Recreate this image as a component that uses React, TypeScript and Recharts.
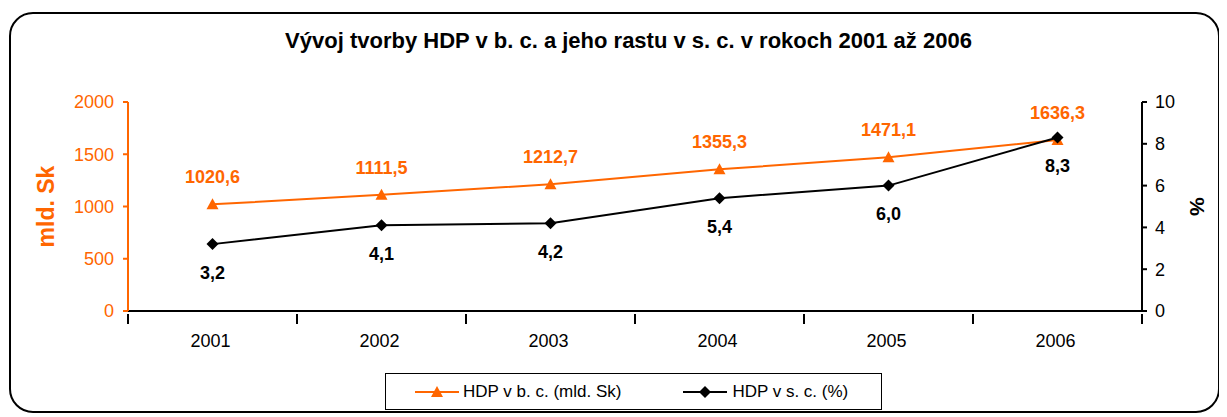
import React from "react"
import { Line, LineChart, LabelList, XAxis, YAxis } from "recharts"

const years = ["2001", "2002", "2003", "2004", "2005", "2006"]
const hdpBc = [1020.6, 1111.5, 1212.7, 1355.3, 1471.1, 1636.3]
const hdpSc = [3.2, 4.1, 4.2, 5.4, 6.0, 8.3]
const leftTicks = [0, 500, 1000, 1500, 2000]
const rightTicks = [0, 2, 4, 6, 8, 10]

const data = years.map((year, i) => ({ year, bc: hdpBc[i], sc: hdpSc[i] }))

const ORANGE = "#FF6600"
const FONT = "'Liberation Sans', Arial, sans-serif"
const BAND = 1014 / years.length

const fmt = (v: any) => Number(v).toFixed(1).replace(".", ",")

const Triangle = (props: any) => {
  const { cx, cy } = props
  if (cx == null || cy == null) return null
  return <path d={`M${cx},${cy - 6} L${cx + 6},${cy + 5} L${cx - 6},${cy + 5} Z`} fill={ORANGE} />
}

const Diamond = (props: any) => {
  const { cx, cy } = props
  if (cx == null || cy == null) return null
  return <path d={`M${cx},${cy - 6} L${cx + 6},${cy} L${cx},${cy + 6} L${cx - 6},${cy} Z`} fill="#000" />
}

// category ticks sit between the years, like the original
const YearTick = (props: any) => {
  const { x, y, payload, index } = props
  const left = x - BAND / 2
  return (
    <g>
      <line x1={left} y1={y - 5} x2={left} y2={y + 5} stroke="#000" strokeWidth={2} />
      {index === years.length - 1 && (
        <line x1={x + BAND / 2} y1={y - 5} x2={x + BAND / 2} y2={y + 5} stroke="#000" strokeWidth={2} />
      )}
      <text x={x - 2} y={y + 28} textAnchor="middle" fontSize={18} fontFamily={FONT} fill="#000">
        {payload.value}
      </text>
    </g>
  )
}

export default function App() {
  return (
    <div
      style={{
        position: "relative",
        marginLeft: 1,
        marginTop: 4,
        width: 1207,
        height: 397,
        border: "2px solid #000",
        borderRadius: 24,
        background: "#fff",
        fontFamily: FONT,
      }}
    >
      <div
        style={{
          position: "absolute",
          top: 14,
          left: 14,
          width: 1207,
          textAlign: "center",
          fontWeight: "bold",
          fontSize: 22,
        }}
      >
        Vývoj tvorby HDP v b. c. a jeho rastu v s. c. v rokoch 2001 až 2006
      </div>
      <LineChart width={1207} height={397} data={data} margin={{ top: 88, right: 0, left: 0, bottom: 70 }}>
        <XAxis
          dataKey="year"
          scale="band"
          xAxisId="x"
          axisLine={{ stroke: "#000", strokeWidth: 2 }}
          tickLine={false}
          tick={<YearTick />}
          height={30}
          interval={0}
        />
        <YAxis
          yAxisId="left"
          orientation="left"
          domain={[0, 2000]}
          ticks={leftTicks}
          width={117}
          axisLine={{ stroke: ORANGE, strokeWidth: 2 }}
          tickLine={{ stroke: ORANGE, strokeWidth: 2 }}
          tickSize={5}
          tickMargin={9}
          tick={{ fill: ORANGE, fontSize: 18, fontFamily: FONT }}
          label={{
            content: ({ viewBox }: any) => (
              <text
                x={35}
                y={viewBox.y + viewBox.height / 2}
                transform={`rotate(-90, 35, ${viewBox.y + viewBox.height / 2})`}
                textAnchor="middle"
                dominantBaseline="central"
                fill={ORANGE}
                fontWeight="bold"
                fontSize={23}
                fontFamily={FONT}
              >
                mld. Sk
              </text>
            ),
          }}
        />
        <YAxis
          yAxisId="right"
          orientation="right"
          domain={[0, 10]}
          ticks={rightTicks}
          width={76}
          axisLine={{ stroke: "#000", strokeWidth: 2 }}
          tickLine={{ stroke: "#000", strokeWidth: 2 }}
          tickSize={5}
          tickMargin={8}
          tick={{ fill: "#000", fontSize: 18, fontFamily: FONT }}
          label={{
            content: ({ viewBox }: any) => (
              <text
                x={1186}
                y={viewBox.y + viewBox.height / 2}
                transform={`rotate(90, 1186, ${viewBox.y + viewBox.height / 2})`}
                textAnchor="middle"
                dominantBaseline="central"
                fill="#000"
                fontWeight="bold"
                fontSize={21}
                fontFamily={FONT}
              >
                %
              </text>
            ),
          }}
        />
        <Line
          xAxisId="x"
          yAxisId="left"
          dataKey="bc"
          stroke={ORANGE}
          strokeWidth={2}
          dot={<Triangle />}
          activeDot={false}
          isAnimationActive={false}
        >
          <LabelList
            dataKey="bc"
            position="top"
            offset={21}
            formatter={fmt}
            fill={ORANGE}
            fontWeight="bold"
            fontSize={18}
            fontFamily={FONT}
          />
        </Line>
        <Line
          xAxisId="x"
          yAxisId="right"
          dataKey="sc"
          stroke="#000"
          strokeWidth={2}
          dot={<Diamond />}
          activeDot={false}
          isAnimationActive={false}
        >
          <LabelList
            dataKey="sc"
            position="bottom"
            offset={22}
            formatter={fmt}
            fill="#000"
            fontWeight="bold"
            fontSize={18}
            fontFamily={FONT}
          />
        </Line>
      </LineChart>
      <div
        style={{
          position: "absolute",
          left: 374,
          top: 359,
          width: 495,
          height: 35,
          border: "1px solid #000",
          display: "flex",
          alignItems: "center",
          fontSize: 17,
        }}
      >
        <svg width={44} height={14} style={{ marginLeft: 29 }}>
          <line x1={0} y1={7} x2={44} y2={7} stroke={ORANGE} strokeWidth={2} />
          <path d="M22,1 L28,12 L16,12 Z" fill={ORANGE} />
        </svg>
        <span style={{ marginLeft: 4 }}>HDP v b. c. (mld. Sk)</span>
        <svg width={44} height={14} style={{ marginLeft: 62 }}>
          <line x1={0} y1={7} x2={44} y2={7} stroke="#000" strokeWidth={2} />
          <path d="M22,1 L28,7 L22,13 L16,7 Z" fill="#000" />
        </svg>
        <span style={{ marginLeft: 5 }}>HDP v s. c. (%)</span>
      </div>
    </div>
  )
}
